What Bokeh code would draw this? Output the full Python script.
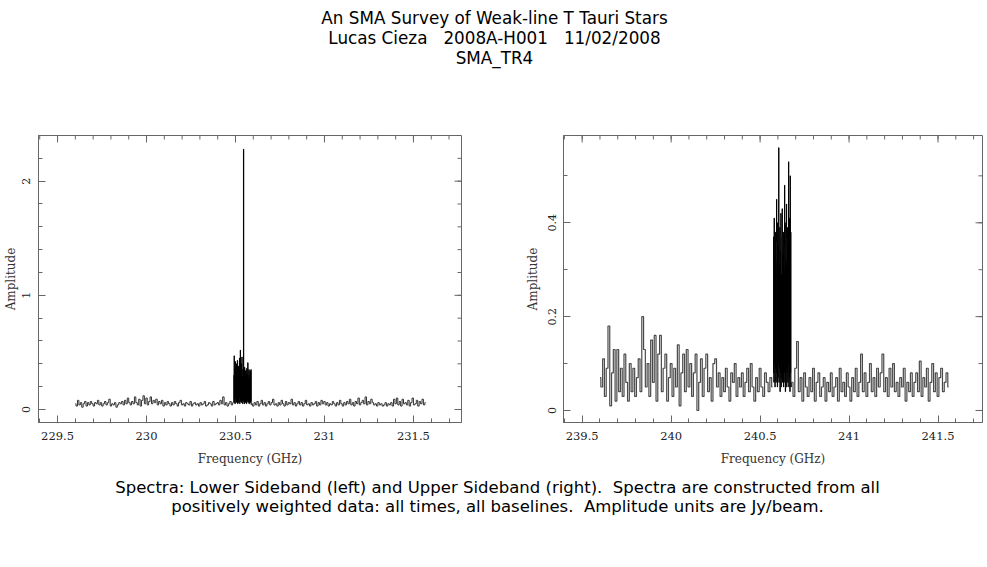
import numpy as np
from bokeh.plotting import figure
from bokeh.layouts import column, row
from bokeh.models import Range1d, LinearAxis, SingleIntervalTicker, CustomJSTickFormatter
from bokeh.embed import file_html
from bokeh.resources import INLINE
from bokeh.core.properties import value

# ---------------- data ----------------
NB = "\u00a0"
title_lines = ["An SMA Survey of Weak-line T Tauri Stars",
               "Lucas Cieza " + NB + " 2008A-H001 " + NB + " 11/02/2008",
               "SMA_TR4"]
caption_lines = ["Spectra: Lower Sideband (left) and Upper Sideband (right). " + NB + "Spectra are constructed from all",
                 "positively weighted data: all times, all baselines. " + NB + "Amplitude units are Jy/beam."]
x_label = "Frequency (GHz)"
y_label = "Amplitude"

# Lower sideband (left panel): channel start frequency, channel width, amplitudes
lsb_lo_start, lsb_lo_step = 229.600, 0.008
lsb_lo = [
    0.05, 0.03, 0.08, 0.04, 0.06, 0.02, 0.05, 0.07, 0.03, 0.06,
    0.04, 0.07, 0.05, 0.03, 0.06, 0.05, 0.08, 0.04, 0.06, 0.03,
    0.05, 0.07, 0.04, 0.06, 0.09, 0.03, 0.05, 0.04, 0.06, 0.02,
    0.04, 0.06, 0.05, 0.07, 0.04, 0.08, 0.05, 0.10, 0.06, 0.04,
    0.07, 0.05, 0.11, 0.06, 0.04, 0.09, 0.03, 0.08, 0.12, 0.05,
    0.10, 0.04, 0.07, 0.11, 0.05, 0.08, 0.06, 0.09, 0.04, 0.07,
    0.05, 0.08, 0.03, 0.06, 0.04, 0.07, 0.05, 0.03, 0.06, 0.04,
    0.07, 0.05, 0.03, 0.06, 0.08, 0.04, 0.05, 0.03, 0.06, 0.05,
    0.04, 0.07, 0.03, 0.05, 0.06, 0.04, 0.05, 0.03, 0.06, 0.04,
    0.05, 0.07, 0.03, 0.04, 0.06, 0.05, 0.03, 0.07, 0.04, 0.05,
    0.06, 0.04, 0.08, 0.05, 0.11, 0.04, 0.06, 0.03, 0.05, 0.07,
    0.04, 0.06]
lsb_band_start, lsb_band_step = 230.490, 0.0015
lsb_band = [
    0.30, 0.06, 0.47, 0.08, 0.35, 0.05, 0.42, 0.10, 0.28, 0.06,
    0.40, 0.07, 0.33, 0.09, 0.43, 0.05, 0.30, 0.08, 0.38, 0.06,
    0.27, 0.10, 0.45, 0.05, 0.36, 0.52, 0.07, 0.31, 0.09, 0.40,
    0.06, 0.46, 0.08, 0.29, 0.05, 0.35, 0.09, 2.28, 0.07, 0.33,
    0.05, 0.37, 0.08, 0.26, 0.06, 0.34, 0.10, 0.29, 0.05, 0.36,
    0.07, 0.31, 0.09, 0.41, 0.06, 0.28, 0.08, 0.35, 0.05, 0.30,
    0.09, 0.34, 0.06, 0.33, 0.07, 0.35, 0.04]
lsb_hi_start, lsb_hi_step = 230.592, 0.008
lsb_hi = [
    0.05, 0.03, 0.06, 0.04, 0.07, 0.03, 0.05, 0.08, 0.04, 0.06,
    0.03, 0.05, 0.07, 0.04, 0.06, 0.09, 0.04, 0.05, 0.03, 0.06,
    0.04, 0.08, 0.05, 0.03, 0.07, 0.04, 0.06, 0.05, 0.09, 0.04,
    0.06, 0.03, 0.05, 0.07, 0.04, 0.06, 0.03, 0.05, 0.08, 0.04,
    0.05, 0.03, 0.06, 0.04, 0.05, 0.07, 0.03, 0.06, 0.04, 0.08,
    0.05, 0.07, 0.04, 0.06, 0.03, 0.05, 0.04, 0.07, 0.05, 0.03,
    0.06, 0.04, 0.08, 0.05, 0.03, 0.06, 0.04, 0.07, 0.05, 0.09,
    0.04, 0.06, 0.03, 0.07, 0.05, 0.10, 0.04, 0.06, 0.08, 0.05,
    0.11, 0.04, 0.07, 0.05, 0.09, 0.06, 0.04, 0.05, 0.03, 0.06,
    0.04, 0.05, 0.03, 0.04, 0.06, 0.03, 0.05, 0.04, 0.06, 0.03,
    0.09, 0.05, 0.10, 0.04, 0.07, 0.03, 0.09, 0.05, 0.06, 0.04,
    0.08, 0.03, 0.06, 0.10, 0.04, 0.05, 0.08, 0.03, 0.07, 0.05,
    0.09, 0.04, 0.06]

# Upper sideband (right panel)
usb_lo_start, usb_lo_step = 239.600, 0.010
usb_lo = [
    0.07, 0.05, 0.11, 0.03, 0.09, 0.18, 0.01, 0.08, 0.13, 0.02,
    0.13, 0.04, 0.09, 0.03, 0.12, 0.06, 0.02, 0.10, 0.04, 0.09,
    0.03, 0.07, 0.11, 0.04, 0.20, 0.13, 0.05, 0.10, 0.03, 0.15,
    0.06, 0.16, 0.02, 0.12, 0.16, 0.04, 0.09, 0.12, 0.02, 0.07,
    0.10, 0.03, 0.09, 0.05, 0.14, 0.01, 0.08, 0.12, 0.04, 0.13,
    0.05, 0.10, 0.03, 0.08, 0.12, 0.00, 0.06, 0.11, 0.03, 0.09,
    0.12, 0.04, 0.07, 0.02, 0.10, 0.11, 0.05, 0.08, 0.03, 0.07,
    0.04, 0.09, 0.05, 0.02, 0.08, 0.06, 0.10, 0.03, 0.07, 0.05,
    0.08, 0.03, 0.06, 0.09, 0.04, 0.10, 0.05, 0.02, 0.07, 0.04,
    0.09, 0.05, 0.03, 0.08, 0.06, 0.04, 0.07, 0.05]
usb_band_start, usb_band_step = 240.575, 0.0015
usb_band = [
    0.08, 0.37, 0.06, 0.41, 0.10, 0.33, 0.05, 0.38, 0.09, 0.30,
    0.06, 0.36, 0.45, 0.08, 0.32, 0.05, 0.40, 0.07, 0.35, 0.10,
    0.56, 0.06, 0.31, 0.09, 0.39, 0.04, 0.34, 0.08, 0.42, 0.05,
    0.29, 0.07, 0.37, 0.43, 0.06, 0.33, 0.10, 0.38, 0.05, 0.30,
    0.08, 0.35, 0.48, 0.06, 0.40, 0.04, 0.32, 0.09, 0.37, 0.44,
    0.05, 0.31, 0.08, 0.39, 0.06, 0.34, 0.10, 0.53, 0.05, 0.36,
    0.07, 0.41, 0.04, 0.50, 0.08, 0.38, 0.05, 0.06]
usb_hi_start, usb_hi_step = 240.680, 0.010
usb_hi = [
    0.06, 0.03, 0.09, 0.147, 0.04, 0.07, 0.02, 0.08, 0.05, 0.03,
    0.07, 0.04, 0.09, 0.02, 0.06, 0.08, 0.03, 0.05, 0.07, 0.02,
    0.06, 0.04, 0.08, 0.03, 0.05, 0.07, 0.02, 0.09, 0.04, 0.06,
    0.03, 0.08, 0.05, 0.02, 0.07, 0.04, 0.09, 0.03, 0.06, 0.12,
    0.04, 0.08, 0.03, 0.06, 0.10, 0.04, 0.07, 0.03, 0.09, 0.05,
    0.08, 0.12, 0.04, 0.07, 0.03, 0.09, 0.05, 0.10, 0.04, 0.06,
    0.03, 0.07, 0.05, 0.09, 0.02, 0.06, 0.04, 0.08, 0.03, 0.06,
    0.08, 0.04, 0.105, 0.03, 0.07, 0.05, 0.09, 0.02, 0.06, 0.10,
    0.04, 0.08, 0.03, 0.07, 0.09, 0.04, 0.06, 0.08, 0.05]

left_xrange = (229.393, 231.77)
left_yrange = (-0.114, 2.40)
right_xrange = (239.395, 241.75)
right_yrange = (-0.0256, 0.586)

FRAME = "#666666"
SERIF = "DejaVu Serif"


def channels(start, step, vals):
    return start + step * np.arange(len(vals))


def tick_values(lo, hi, step):
    k0 = int(np.ceil(lo / step - 1e-9))
    k1 = int(np.floor(hi / step + 1e-9))
    return np.arange(k0, k1 + 1) * step


def make_panel(xr, yr, y_interval, y_minor, width, bl, br, lab_standoff, ax_standoff, series):
    p = figure(width=width, height=395, x_range=Range1d(*xr), y_range=Range1d(*yr),
               output_backend="svg", toolbar_location=None,
               x_axis_location=None, y_axis_location=None,
               min_border_left=bl, min_border_right=br, min_border_top=55, min_border_bottom=53)
    p.grid.visible = False
    p.outline_line_color = FRAME
    fmt = CustomJSTickFormatter(code="return String(Math.round(tick*10)/10);")
    common = dict(axis_line_color=FRAME, major_tick_line_color=FRAME, minor_tick_line_color=FRAME,
                  major_tick_in=7, major_tick_out=0, minor_tick_in=4, minor_tick_out=0)
    bottom = LinearAxis(ticker=SingleIntervalTicker(interval=0.5, num_minor_ticks=5), formatter=fmt,
                        axis_label=x_label, axis_label_text_font=SERIF, axis_label_text_font_size="12px",
                        axis_label_text_font_style="normal", axis_label_text_color="#333333",
                        axis_label_standoff=9, major_label_standoff=9,
                        major_label_text_font=SERIF, major_label_text_font_size="11.5px",
                        major_label_text_color="#222222", **common)
    left = LinearAxis(ticker=SingleIntervalTicker(interval=y_interval, num_minor_ticks=y_minor), formatter=fmt,
                      axis_label=y_label, axis_label_text_font=SERIF, axis_label_text_font_size="12px",
                      axis_label_text_font_style="normal", axis_label_text_color="#333333",
                      axis_label_standoff=ax_standoff, major_label_standoff=lab_standoff,
                      major_label_orientation="parallel",
                      major_label_text_font=SERIF, major_label_text_font_size="11px",
                      major_label_text_color="#222222", **common)
    p.add_layout(bottom, "below")
    p.add_layout(left, "left")

    # inward ticks on the top and right frame edges
    xmaj = tick_values(xr[0], xr[1], 0.5)
    xmin = tick_values(xr[0], xr[1], 0.1)
    ymaj = tick_values(yr[0], yr[1], y_interval)
    ymin = tick_values(yr[0], yr[1], y_interval / y_minor)
    p.ray(x=xmaj, y=[yr[1]] * len(xmaj), length=7, length_units="screen", angle=-np.pi / 2,
          line_color=FRAME, line_width=1)
    p.ray(x=xmin, y=[yr[1]] * len(xmin), length=4, length_units="screen", angle=-np.pi / 2,
          line_color=FRAME, line_width=1)
    p.ray(x=[xr[1]] * len(ymaj), y=ymaj, length=7, length_units="screen", angle=np.pi,
          line_color=FRAME, line_width=1)
    p.ray(x=[xr[1]] * len(ymin), y=ymin, length=4, length_units="screen", angle=np.pi,
          line_color=FRAME, line_width=1)

    for (start, step, vals, color, lw) in series:
        p.step(channels(start, step, vals), vals, mode="center", line_color=color, line_width=lw)
    return p


left_panel = make_panel(left_xrange, left_yrange, 1, 5, 500, 38, 39, 8, 2,
                        [(lsb_lo_start, lsb_lo_step, lsb_lo, "#333333", 1),
                         (lsb_hi_start, lsb_hi_step, lsb_hi, "#333333", 1),
                         (lsb_band_start, lsb_band_step, lsb_band, "black", 1)])
right_panel = make_panel(right_xrange, right_yrange, 0.2, 2, 486, 63, 4, 7, 6,
                         [(usb_lo_start, usb_lo_step, usb_lo, "#4a4a4a", 1.2),
                          (usb_hi_start, usb_hi_step, usb_hi, "#4a4a4a", 1.2),
                          (usb_band_start, usb_band_step, usb_band, "black", 1)])


def text_fig(width, height, ys, lines, xc, size):
    f = figure(width=width, height=height, x_range=Range1d(0, width), y_range=Range1d(0, height),
               output_backend="svg", toolbar_location=None, min_border=0,
               x_axis_location=None, y_axis_location=None)
    f.grid.visible = False
    f.outline_line_color = None
    f.text(x=[xc] * len(lines), y=ys, text=lines, text_font=value("DejaVu Sans"),
           text_font_size=size, text_align="center", text_baseline="alphabetic", text_color="black")
    return f


title_fig = text_fig(986, 80, [63, 43, 23], title_lines, 494, "16.8px")
caption_fig = text_fig(986, 70, [58, 39], caption_lines, 497, "16.5px")

layout = column(title_fig, row(left_panel, right_panel), caption_fig)
open("out.html", "w").write(file_html(layout, INLINE))
